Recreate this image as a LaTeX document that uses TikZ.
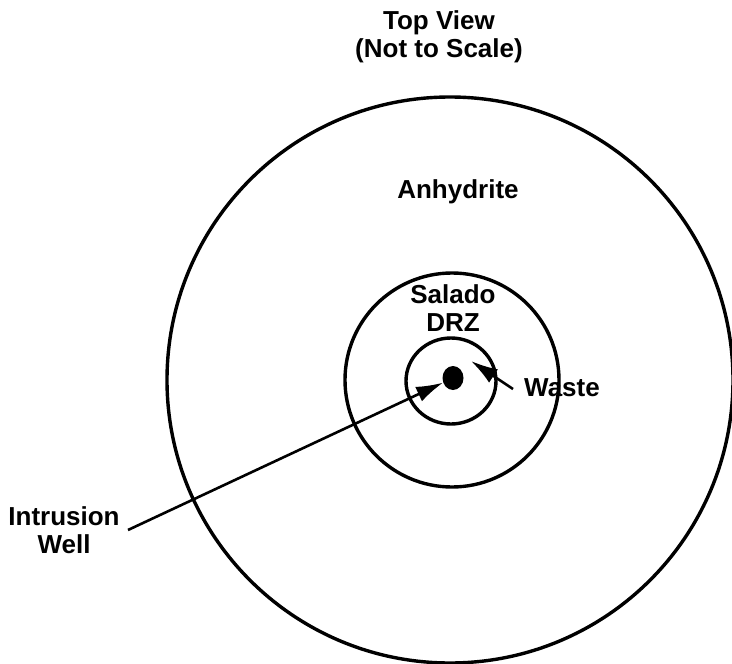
\documentclass[tikz,border=0pt]{standalone}
\usepackage{fontspec}
\setmainfont{Liberation Sans}
\usetikzlibrary{arrows.meta,shapes.geometric}
\begin{document}
\begin{tikzpicture}[x=1pt,y=-1pt,
  ring/.style={draw=black,line width=3.4pt},
  lbl/.style={font=\fontsize{26}{28}\selectfont\bfseries,align=center,inner sep=0pt},
  pointer/.style={draw=black,line width=2.6pt,-{Latex[length=27pt,width=16pt]}}]
  \useasboundingbox (0,0) rectangle (732,664);
  % title
  \node[lbl] (title) at (439,37) {Top View\\(Not to Scale)};
  % concentric zones
  \draw[ring] (450,380) circle[radius=283];
  \draw[ring] (452,380) circle[radius=107];
  \draw[ring] (451,381) circle[x radius=45,y radius=43];
  % well
  \node[fill=black,ellipse,minimum width=21pt,minimum height=24pt,inner sep=0pt] (well) at (453,378) {};
  % labels
  \node[lbl] (anhy) at (458,192) {Anhydrite};
  \node[lbl] (salado) at (453,308) {Salado\\DRZ};
  \node[lbl,anchor=west] (waste) at (524,388) {Waste};
  \node[lbl] (intr) at (64,530) {Intrusion\\Well};
  \coordinate (wasteTip) at (471,361);
  \coordinate (intrStart) at (128,530);
  % pointers
  \draw[pointer] ([xshift=-11pt,yshift=-1pt]waste.west) -- (wasteTip);
  \draw[pointer] (intrStart) -- (well);
\end{tikzpicture}
\end{document}
